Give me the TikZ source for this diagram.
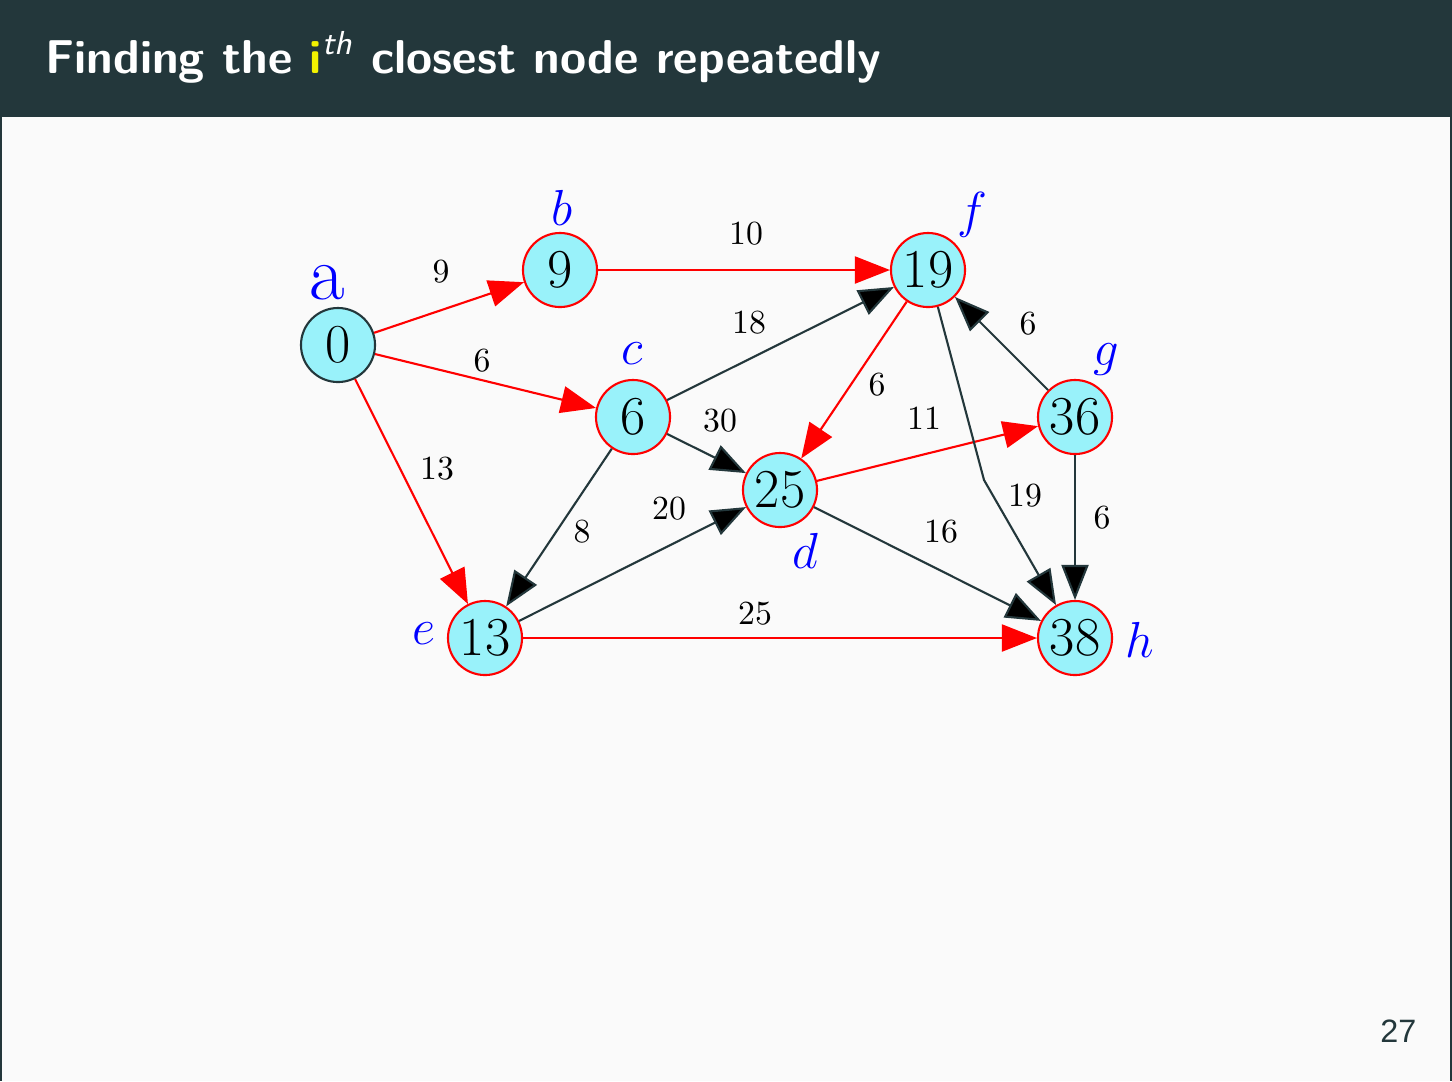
\documentclass[tikz,border=0pt]{standalone}
\usepackage{fontspec}
\newfontfamily\pagefont{Liberation Sans}
\usepackage{xcolor}
\usepackage{tikz}
\usetikzlibrary{arrows.meta}
\definecolor{bar}{HTML}{23373B}
\definecolor{paper}{HTML}{FAFAFA}
\definecolor{cyanfill}{HTML}{99F2FA}
\definecolor{hl}{HTML}{F2F200}
\definecolor{tagblue}{HTML}{0000FF}
\tikzset{
  vert/.style={circle, draw=red, fill=cyanfill, line width=0.6pt, minimum size=0.74cm, inner sep=0pt, font=\fontsize{15.6}{17}\selectfont},
  hot/.style={draw=red, line width=0.6pt, -{Triangle[length=3.5mm,width=2.7mm]}},
  cold/.style={draw=bar, line width=0.6pt, -{Triangle[length=3.5mm,width=2.7mm,fill=black]}},
  wt/.style={font=\fontsize{9.6}{11}\selectfont},
  tag/.style={text=tagblue, font=\fontsize{14.4}{16}\selectfont},
}
\begin{document}
\begin{tikzpicture}[x=0.01cm, y=-0.01cm]
  \fill[paper] (0,0) rectangle (1452,1081);
  \fill[bar] (0,0) rectangle (1452,117);
  \draw[bar, line width=0.4pt] (1,117) -- (1,1081) (1451,117) -- (1451,1081);
  \useasboundingbox (0,0) rectangle (1452,1081);
  \node[anchor=base west, inner sep=0pt, text=white, font=\sffamily\bfseries\fontsize{13.5}{16}\selectfont] (title) at (45,73)
    {Finding the \textcolor{hl}{i}\textsuperscript{\mdseries\itshape th} closest node repeatedly};
  \node[anchor=base east, inner sep=0pt, text=bar, font=\pagefont\fontsize{9.2}{11}\selectfont] (pgnum) at (1417,1042) {27};
  % vertices with their distances
  \node[vert, draw=bar] (a) at (338,345) {0};
  \foreach \n/\x/\y/\v in {b/560/270/9, c/633/417/6, d/780/490/25, e/485/638/13,
                           f/928/270/19, g/1075/417/36, h/1075/638/38}
    \node[vert] (\n) at (\x,\y) {\v};
  \node[text=tagblue, font=\fontsize{22}{24}\selectfont] (ta) at (327,283) {a};
  \foreach \n/\x/\y in {b/562/208, c/632/354, d/805/551, e/424/634, f/972/215, g/1106/360, h/1140/640}
    \node[tag] (t\n) at (\x,\y) {$\n$};
  % tree edges
  \foreach \s/\t/\w/\lx/\ly in {a/b/9/441/272, a/c/6/482/361, a/e/13/437/469, b/f/10/746/234,
                                f/d/6/877/385, d/g/11/924/418, e/h/25/755/614}
    \draw[hot] (\s) -- (\t) node[wt] at (\lx,\ly) {\w};
  % other edges
  \foreach \s/\t/\w/\lx/\ly in {c/f/18/749/323, c/d/30/720/421, c/e/8/582/532, e/d/20/669/509,
                                d/h/16/941/532, g/f/6/1028/324, g/h/6/1102/518}
    \draw[cold] (\s) -- (\t) node[wt] at (\lx,\ly) {\w};
  \coordinate (fh) at (984,480);
  \draw[cold] (f) -- (fh) -- (h) node[wt] at (1025,496) {19};
\end{tikzpicture}
\end{document}
